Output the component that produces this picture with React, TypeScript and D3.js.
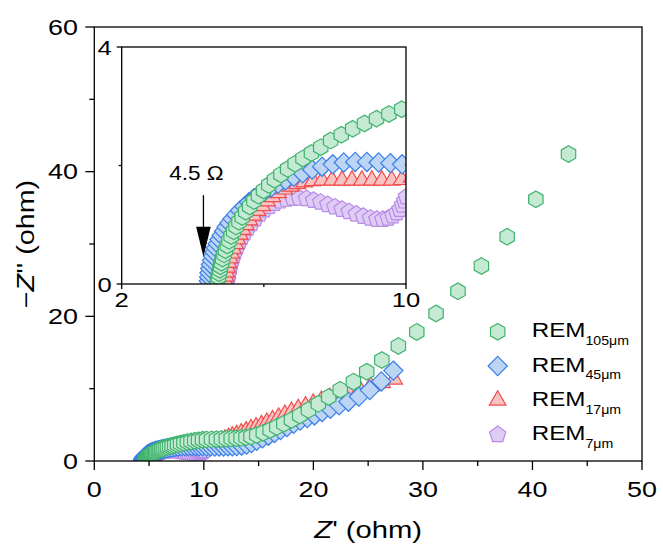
import React from 'react';
import * as d3 from 'd3';

const W = 663;
const H = 554;

// ---- data (Z', -Z'') ----
const rem105: [number, number][] = [
  [4.70,0.06],[4.72,0.12],[4.74,0.18],[4.76,0.24],[4.78,0.30],[4.81,0.36],[4.84,0.43],[4.88,0.50],[4.92,0.57],[4.97,0.65],
  [5.02,0.73],[5.08,0.81],[5.15,0.89],[5.22,0.97],[5.30,1.05],[5.39,1.13],[5.49,1.22],[5.60,1.31],[5.72,1.40],[5.85,1.49],
  [5.99,1.58],[6.14,1.67],[6.30,1.76],[6.48,1.85],[6.67,1.94],[6.88,2.03],[7.10,2.12],[7.34,2.21],[7.60,2.31],[7.88,2.42],
  [8.18,2.52],[8.50,2.62],[8.83,2.71],[9.17,2.79],[9.52,2.87],[9.88,2.95],
  [10.25,2.97],[10.7,2.99],[11.15,3.01],[11.6,3.04],[12.05,3.07],[12.5,3.11],[12.95,3.15],[13.4,3.2],[13.85,3.28],[14.3,3.4],
  [14.83,3.6],[15.43,3.92],[16.05,4.29],[16.66,4.7],[17.3,5.15],[18.0,5.68],[18.75,6.3],[19.55,7.05],[20.45,7.9],[21.4,8.85],
  [22.45,9.85],[23.65,10.97],[24.87,12.35],[26.25,13.96],[27.76,15.9],[29.44,17.85],[31.2,20.4],[33.2,23.46],[35.34,26.96],
  [37.69,31.01],[40.31,36.18],[43.29,42.44],
];

const rem45: [number, number][] = [
  [4.45,0.05],[4.46,0.12],[4.47,0.19],[4.49,0.26],[4.51,0.33],[4.54,0.40],[4.57,0.47],[4.61,0.54],[4.65,0.61],[4.70,0.68],
  [4.75,0.75],[4.81,0.82],[4.88,0.89],[4.95,0.96],[5.03,1.03],[5.12,1.10],[5.22,1.17],[5.33,1.24],[5.45,1.31],[5.58,1.38],
  [5.72,1.45],[5.87,1.51],[6.03,1.57],[6.21,1.63],[6.40,1.69],[6.61,1.75],[6.84,1.81],[7.09,1.87],[7.36,1.93],[7.64,1.98],
  [7.94,2.02],[8.25,2.05],[8.57,2.06],[8.90,2.06],[9.23,2.05],[9.56,2.04],[9.89,2.02],
  [10.25,2.01],[10.62,2.0],[11.0,2.0],[11.4,2.0],[11.8,2.01],[12.2,2.02],[12.6,2.04],[13.0,2.08],[13.45,2.15],[13.9,2.27],
  [14.35,2.47],[14.83,2.8],[15.35,3.15],[15.9,3.5],[16.45,3.88],[17.0,4.27],[17.6,4.7],[18.2,5.15],[18.8,5.6],[19.45,5.95],
  [20.1,6.3],[20.8,6.75],[21.55,7.2],[22.35,7.7],[23.2,8.2],[24.15,8.9],[25.15,9.8],[26.2,11.0],[27.3,12.5],
];

const rem17: [number, number][] = [
  [4.90,0.06],[4.92,0.13],[4.94,0.20],[4.97,0.28],[5.00,0.36],[5.04,0.44],[5.08,0.52],[5.13,0.60],[5.19,0.68],[5.25,0.76],
  [5.32,0.84],[5.40,0.92],[5.49,1.00],[5.59,1.08],[5.70,1.16],[5.82,1.24],[5.95,1.32],[6.09,1.40],[6.24,1.47],[6.40,1.54],
  [6.57,1.60],[6.75,1.65],[6.94,1.69],[7.14,1.72],[7.38,1.74],[7.64,1.75],[7.92,1.75],[8.20,1.75],[8.48,1.75],[8.76,1.75],
  [9.04,1.75],[9.32,1.75],[9.60,1.75],[9.88,1.76],
  [10.16,1.80],[10.44,1.92],[10.72,2.08],[11.00,2.28],[11.30,2.50],[11.60,2.74],[11.92,2.98],[12.25,3.20],[12.60,3.40],
  [13.0,3.62],[13.42,3.86],[13.85,4.12],[14.3,4.40],[14.77,4.68],[15.25,4.98],[15.75,5.30],[16.27,5.65],[16.82,6.02],
  [17.4,6.42],[18.0,6.82],[18.62,7.2],[19.28,7.57],[19.98,7.95],[20.72,8.33],[21.52,8.72],[22.37,9.1],[23.27,9.5],
  [24.22,9.92],[25.22,10.35],[26.27,10.8],[27.37,11.3],
];

const rem7: [number, number][] = [
  [4.98,0.06],[5.00,0.14],[5.03,0.22],[5.06,0.30],[5.10,0.38],[5.14,0.46],[5.19,0.54],[5.25,0.62],[5.31,0.70],[5.38,0.78],
  [5.46,0.86],[5.55,0.94],[5.65,1.02],[5.76,1.10],[5.88,1.18],[6.01,1.25],[6.15,1.31],[6.30,1.36],[6.46,1.40],[6.63,1.43],
  [6.81,1.45],[7.00,1.45],[7.20,1.44],[7.40,1.41],[7.60,1.38],[7.80,1.34],[8.00,1.30],[8.20,1.26],[8.40,1.22],[8.60,1.18],
  [8.80,1.14],[9.00,1.11],[9.18,1.09],[9.35,1.09],[9.50,1.11],[9.63,1.15],[9.74,1.20],[9.83,1.26],[9.90,1.33],[9.96,1.40],
  [10.01,1.47],
];

const legendMain = ['REM', 'REM', 'REM', 'REM'];
const legendSub = ['105μm', '45μm', '17μm', '7μm'];

const mainXTicks = [0, 10, 20, 30, 40, 50];
const mainXMinor = [5, 15, 25, 35, 45];
const mainYTicks = [0, 20, 40, 60];
const mainYMinor = [10, 30, 50];
const insetXTicks = [2, 10];
const insetXMinor = [6];
const insetYTicks = [0, 4];
const insetYMinor = [2];

const annotationText = '4.5 Ω';
const annotationX = 4.3;
const arrowFromY = 1.5;
const arrowHeadY = 0.965;
const arrowTipY = 0.46;

// ---- styles ----
const FONT = "'Liberation Sans', Arial, sans-serif";
const series = [
  { data: rem105, n: 6, r: 8.3, stroke: '#3fb26d', fill: '#c4ead3' },
  { data: rem45, n: 4, r: 9.6, stroke: '#3a7ee6', fill: '#bdd5f5' },
  { data: rem17, n: 3, r: 9.6, stroke: '#f24b4b', fill: '#f9c2c2' },
  { data: rem7, n: 5, r: 8.6, stroke: '#b98be6', fill: '#dfccf5' },
];

function poly(n: number, r: number): string {
  const pts = d3.range(n).map((i) => {
    const a = -Math.PI / 2 + (i * 2 * Math.PI) / n;
    return [r * Math.cos(a), r * Math.sin(a)];
  });
  return 'M' + pts.map((p) => p[0].toFixed(2) + ',' + p[1].toFixed(2)).join('L') + 'Z';
}

const xMain = d3.scaleLinear().domain([0, 50]).range([94.3, 642]);
const yMain = d3.scaleLinear().domain([0, 60]).range([461, 27]);
const xIn = d3.scaleLinear().domain([2, 10]).range([121.7, 406]);
const yIn = d3.scaleLinear().domain([0, 4]).range([284, 47]);

function T(props: {
  x: number; y: number; sx?: number; rot?: number; size: number;
  anchor?: 'start' | 'middle' | 'end'; children: React.ReactNode;
}) {
  const { x, y, sx = 1.25, rot = 0, size, anchor = 'start', children } = props;
  return (
    <text
      transform={`translate(${x},${y}) rotate(${rot}) scale(${sx},1)`}
      fontSize={size}
      fontFamily={FONT}
      textAnchor={anchor}
      fill="#000"
    >
      {children}
    </text>
  );
}

function Markers(props: { xs: d3.ScaleLinear<number, number>; ys: d3.ScaleLinear<number, number> }) {
  const { xs, ys } = props;
  const order = [3, 2, 1, 0];
  return (
    <g>
      {order.map((si) => {
        const s = series[si];
        const path = poly(s.n, s.r);
        return (
          <g key={si} stroke={s.stroke} fill={s.fill} strokeWidth={1.2} strokeLinejoin="miter">
            {s.data.map((d, i) => (
              <path key={i} d={path} transform={`translate(${xs(d[0])},${ys(d[1])})`} />
            ))}
          </g>
        );
      })}
    </g>
  );
}

export default function App() {
  const [mx0, mx1] = xMain.range();
  const [my0, my1] = yMain.range();
  const [ix0, ix1] = xIn.range();
  const [iy0, iy1] = yIn.range();
  const legendRowY = [331.7, 366, 400.3, 434.6];
  const legendX = 497.7;

  return (
    <svg
      width={W}
      height={H}
      viewBox={`0 0 ${W} ${H}`}
      style={{ position: 'absolute', left: 0, top: 0, display: 'block', background: '#fff' }}
    >
      <defs>
        <clipPath id="clipMain">
          <rect x={mx0} y={my1} width={mx1 - mx0} height={my0 - my1} />
        </clipPath>
        <clipPath id="clipIn">
          <rect x={ix0} y={iy1} width={ix1 - ix0} height={iy0 - iy1} />
        </clipPath>
      </defs>
      <rect x={0} y={0} width={W} height={H} fill="#fff" />

      {/* main data */}
      <g clipPath="url(#clipMain)">
        <Markers xs={xMain} ys={yMain} />
      </g>

      {/* main frame */}
      <rect x={mx0} y={my1} width={mx1 - mx0} height={my0 - my1} fill="none" stroke="#000" strokeWidth={1.3} />
      {mainXTicks.map((t) => (
        <line key={'mx' + t} x1={xMain(t)} x2={xMain(t)} y1={my0} y2={my0 + 9} stroke="#000" strokeWidth={1.3} />
      ))}
      {mainXMinor.map((t) => (
        <line key={'mxm' + t} x1={xMain(t)} x2={xMain(t)} y1={my0} y2={my0 + 5} stroke="#000" strokeWidth={1.3} />
      ))}
      {mainYTicks.map((t) => (
        <line key={'my' + t} x1={mx0 - 9} x2={mx0} y1={yMain(t)} y2={yMain(t)} stroke="#000" strokeWidth={1.3} />
      ))}
      {mainYMinor.map((t) => (
        <line key={'mym' + t} x1={mx0 - 5} x2={mx0} y1={yMain(t)} y2={yMain(t)} stroke="#000" strokeWidth={1.3} />
      ))}
      {mainXTicks.map((t) => (
        <T key={'mxl' + t} x={xMain(t)} y={497.3} size={21.5} anchor="middle">{t}</T>
      ))}
      {mainYTicks.map((t) => (
        <T key={'myl' + t} x={78} y={yMain(t) + 7.6} size={21.5} anchor="end">{t}</T>
      ))}

      {/* axis titles */}
      <T x={(mx0 + mx1) / 2} y={538} size={23} anchor="middle" sx={1.27}>
        <tspan fontStyle="italic">Z</tspan>
        <tspan>' (ohm)</tspan>
      </T>
      <T x={34} y={(my0 + my1) / 2} size={23} anchor="middle" rot={-90} sx={1.25}>
        <tspan>−</tspan>
        <tspan fontStyle="italic">Z</tspan>
        <tspan>'' (ohm)</tspan>
      </T>

      {/* inset */}
      <rect x={ix0} y={iy1} width={ix1 - ix0} height={iy0 - iy1} fill="#fff" />
      <g clipPath="url(#clipIn)">
        <Markers xs={xIn} ys={yIn} />
      </g>
      <rect x={ix0} y={iy1} width={ix1 - ix0} height={iy0 - iy1} fill="none" stroke="#000" strokeWidth={1.3} />
      {insetXTicks.map((t) => (
        <line key={'ix' + t} x1={xIn(t)} x2={xIn(t)} y1={iy0} y2={iy0 + 5} stroke="#000" strokeWidth={1.3} />
      ))}
      {insetXMinor.map((t) => (
        <line key={'ixm' + t} x1={xIn(t)} x2={xIn(t)} y1={iy0} y2={iy0 + 3} stroke="#000" strokeWidth={1.3} />
      ))}
      {insetYTicks.map((t) => (
        <line key={'iy' + t} x1={ix0 - 5} x2={ix0} y1={yIn(t)} y2={yIn(t)} stroke="#000" strokeWidth={1.3} />
      ))}
      {insetYMinor.map((t) => (
        <line key={'iym' + t} x1={ix0 - 3} x2={ix0} y1={yIn(t)} y2={yIn(t)} stroke="#000" strokeWidth={1.3} />
      ))}
      {insetXTicks.map((t) => (
        <T key={'ixl' + t} x={xIn(t)} y={307.3} size={20.5} anchor="middle">{t}</T>
      ))}
      {insetYTicks.map((t) => (
        <T key={'iyl' + t} x={111.7} y={yIn(t) + 7.6} size={20.5} anchor="end">{t}</T>
      ))}

      {/* annotation */}
      <T x={xIn(annotationX) - 7} y={180} size={20} anchor="middle" sx={1.13}>{annotationText}</T>
      <line
        x1={xIn(annotationX)} x2={xIn(annotationX)}
        y1={yIn(arrowFromY)} y2={yIn(arrowHeadY) + 1}
        stroke="#000" strokeWidth={1.3}
      />
      <path
        d={`M${xIn(annotationX) - 7.3},${yIn(arrowHeadY)}L${xIn(annotationX) + 7.3},${yIn(arrowHeadY)}L${xIn(annotationX)},${yIn(arrowTipY)}Z`}
        fill="#000"
      />

      {/* legend */}
      {series.map((s, i) => (
        <g key={'lg' + i}>
          <path
            d={poly(s.n, s.r)}
            transform={`translate(${legendX},${legendRowY[i]})`}
            stroke={s.stroke}
            fill={s.fill}
            strokeWidth={1.2}
          />
          <T x={531.7} y={legendRowY[i] + 5.6} size={20.5} sx={1.18}>
            <tspan>{legendMain[i]}</tspan>
            <tspan fontSize={12} dy={7.7}>{legendSub[i]}</tspan>
          </T>
        </g>
      ))}
    </svg>
  );
}
